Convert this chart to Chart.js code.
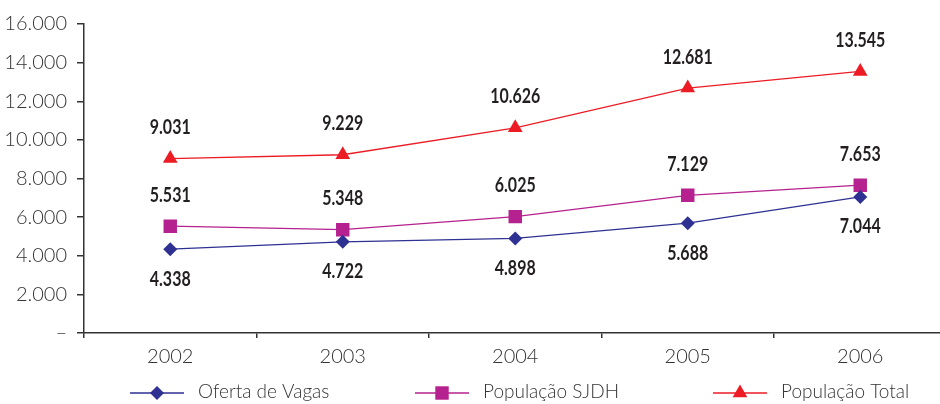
<!DOCTYPE html>
<html lang="pt-BR">
<head>
    <meta charset="UTF-8">
    <title>Oferta de Vagas e População</title>
    <script src="https://cdn.jsdelivr.net/npm/chart.js"></script>
    <style>
        html, body { margin: 0; padding: 0; background: #fff; overflow: hidden; }
        #wrap { width: 956px; height: 404px; }
    </style>
</head>
<body>
<div id="wrap"><canvas id="chart" width="956" height="404"></canvas></div>

<script>
    const anos = ['2002', '2003', '2004', '2005', '2006'];
    const ofertaVagas = [4338, 4722, 4898, 5688, 7044];
    const populacaoSJDH = [5531, 5348, 6025, 7129, 7653];
    const populacaoTotal = [9031, 9229, 10626, 12681, 13545];
    const yTicks = [0, 2000, 4000, 6000, 8000, 10000, 12000, 14000, 16000];

    const fonteEixo = "'Lato', 'Open Sans', sans-serif";
    const corTexto = '#333333';

    function formata(v) {
        if (v === 0) return '–';
        return String(v).replace(/\B(?=(\d{3})+(?!\d))/g, '.');
    }

    // rótulos com os valores em cima / embaixo de cada ponto
    const rotulos = {
        id: 'rotulos',
        afterDatasetsDraw(chart) {
            const ctx = chart.ctx;
            chart.data.datasets.forEach((ds, i) => {
                const meta = chart.getDatasetMeta(i);
                meta.data.forEach((pt, j) => {
                    ctx.save();
                    ctx.font = "bold 20px 'Lato', sans-serif";
                    ctx.fillStyle = '#231f20';
                    ctx.textAlign = 'center';
                    ctx.textBaseline = 'middle';
                    ctx.translate(pt.x, pt.y + ds.labelOffset);
                    ctx.scale(0.8, 1); // fonte mais estreita
                    ctx.fillText(formata(ds.data[j]), 0, 0);
                    ctx.restore();
                });
            });
        }
    };

    // legenda com linha + marcador
    const legenda = {
        id: 'legenda',
        afterDraw(chart, args, opts) {
            const ctx = chart.ctx;
            ctx.save();
            ctx.font = '300 19px ' + fonteEixo;
            ctx.textBaseline = 'middle';
            chart.data.datasets.forEach((ds, i) => {
                const x = opts.x[i], y = opts.y;
                ctx.strokeStyle = ds.borderColor;
                ctx.lineWidth = 1.5;
                ctx.beginPath();
                ctx.moveTo(x, y);
                ctx.lineTo(x + 54, y);
                ctx.stroke();
                ctx.fillStyle = ds.pointBackgroundColor;
                Chart.helpers.drawPoint(ctx, {
                    pointStyle: ds.pointStyle,
                    radius: ds.pointRadius,
                    rotation: 0,
                    borderWidth: 0
                }, x + 27, y);
                ctx.fillStyle = corTexto;
                ctx.fillText(ds.label, x + 68, y - 1);
            });
            ctx.restore();
        }
    };

    new Chart(document.getElementById('chart'), {
        type: 'line',
        data: {
            labels: anos,
            datasets: [
                {
                    label: 'Oferta de Vagas',
                    data: ofertaVagas,
                    borderColor: '#2e3192',
                    backgroundColor: '#2e3192',
                    pointBackgroundColor: '#2e3192',
                    pointBorderWidth: 0,
                    pointStyle: 'rectRot',
                    pointRadius: 7,
                    borderWidth: 1.3,
                    labelOffset: 30
                },
                {
                    label: 'População SJDH',
                    data: populacaoSJDH,
                    borderColor: '#b5218e',
                    backgroundColor: '#b5218e',
                    pointBackgroundColor: '#b5218e',
                    pointBorderWidth: 0,
                    pointStyle: 'rect',
                    pointRadius: 9.5,
                    borderWidth: 1.3,
                    labelOffset: -31
                },
                {
                    label: 'População Total',
                    data: populacaoTotal,
                    borderColor: '#ed1c24',
                    backgroundColor: '#ed1c24',
                    pointBackgroundColor: '#ed1c24',
                    pointBorderWidth: 0,
                    pointStyle: 'triangle',
                    pointRadius: 8.5,
                    borderWidth: 1.3,
                    labelOffset: -31
                }
            ]
        },
        options: {
            responsive: false,
            animation: false,
            layout: { padding: { top: 24, left: 0, right: 4, bottom: 36 } },
            plugins: {
                legend: { display: false },
                tooltip: { enabled: false },
                legenda: { x: [130, 415, 713], y: 393 }
            },
            scales: {
                x: {
                    offset: true,
                    grid: {
                        offset: true,
                        drawOnChartArea: false,
                        drawTicks: true,
                        tickLength: 5,
                        color: '#333',
                        lineWidth: 1.5
                    },
                    border: { color: '#333', width: 1.5 },
                    ticks: {
                        padding: 7,
                        color: corTexto,
                        font: { family: fonteEixo, size: 20, weight: '300' }
                    },
                    afterFit: s => { s.height = 35; }
                },
                y: {
                    min: 0,
                    max: 16000,
                    afterBuildTicks: s => { s.ticks = yTicks.map(v => ({ value: v })); },
                    grid: {
                        drawOnChartArea: false,
                        tickLength: 7,
                        color: '#333',
                        lineWidth: 1.5
                    },
                    border: { color: '#333', width: 1.5 },
                    ticks: {
                        padding: 10,
                        color: corTexto,
                        font: { family: fonteEixo, size: 20, weight: '300' },
                        callback: v => formata(v)
                    },
                    afterFit: s => { s.width = 84; }
                }
            }
        },
        plugins: [rotulos, legenda]
    });
</script>
</body>
</html>
